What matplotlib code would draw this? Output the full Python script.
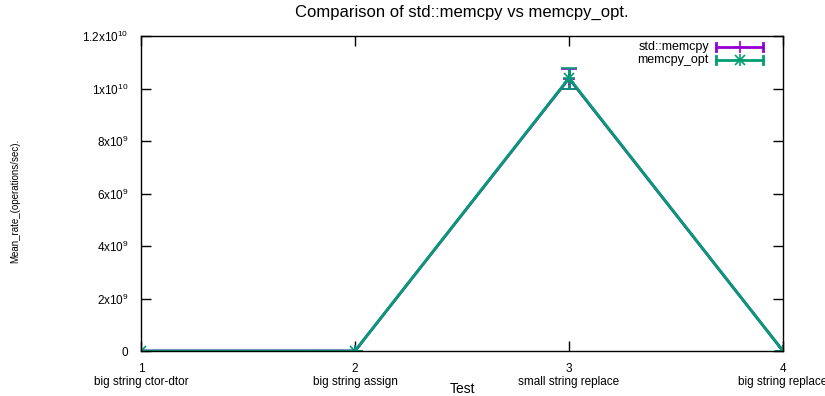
import matplotlib
matplotlib.use("Agg")
import matplotlib.pyplot as plt
from matplotlib.lines import Line2D

plt.rcParams["font.family"] = ["Liberation Sans", "DejaVu Sans"]
plt.rcParams["mathtext.fontset"] = "custom"
plt.rcParams["mathtext.rm"] = "Liberation Sans"
plt.rcParams["mathtext.it"] = "Liberation Sans"

# Benchmark results
tests = [1, 2, 3, 4]
test_names = ["big string ctor-dtor", "big string assign",
              "small string replace", "big string replace"]
std_memcpy = [1.2e6, 2.0e6, 1.038e10, 1.5e6]
std_memcpy_err = [0.0, 0.0, 3.8e8, 0.0]
memcpy_opt = [1.2e6, 2.0e6, 1.040e10, 1.5e6]
memcpy_opt_err = [0.0, 0.0, 4.0e8, 0.0]

y_ticks = [0, 2e9, 4e9, 6e9, 8e9, 1e10, 1.2e10]
y_tick_labels = ["0", r"2x10$^{9}$", r"4x10$^{9}$", r"6x10$^{9}$",
                 r"8x10$^{9}$", r"1x10$^{10}$", r"1.2x10$^{10}$"]

purple = "#9400D3"
green = "#009E73"

fig = plt.figure(figsize=(8.25, 3.96), dpi=100)
ax = fig.add_axes([141 / 825, 1 - 351 / 396, (783 - 141) / 825, (351 - 36) / 396])

ax.errorbar(tests, std_memcpy, yerr=std_memcpy_err, color=purple, lw=2,
            marker="+", ms=9, mew=1.2, capsize=5.5, capthick=2, elinewidth=2)
ax.errorbar(tests, memcpy_opt, yerr=memcpy_opt_err, color=green, lw=2,
            marker="+", ms=9, mew=1.2, capsize=5.5, capthick=2, elinewidth=2)
ax.plot(tests, memcpy_opt, ls="none", marker="x", ms=7, mew=1.2, color=green)

ax.set_xlim(1, 4)
ax.set_ylim(0, 1.2e10)
ax.set_xticks(tests)
ax.set_xticklabels([f"{t}\n{n}" for t, n in zip(tests, test_names)],
                   fontsize=8.5, linespacing=1.0)
ax.set_yticks(y_ticks)
ax.set_yticklabels(y_tick_labels, fontsize=8.5)
ax.tick_params(direction="in", length=7, width=1, top=True, right=True)
ax.tick_params(axis="y", pad=9)
ax.tick_params(axis="x", pad=9)
for s in ax.spines.values():
    s.set_linewidth(1)

fig.text(462 / 825, 1 - 12 / 396, "Comparison of std::memcpy vs memcpy_opt.",
         ha="center", va="center", fontsize=12)
fig.text(462 / 825, 1 - 389 / 396, "Test", ha="center", va="center",
         fontsize=10)
fig.text(15 / 825, 1 - 201 / 396, "Mean_rate_(operations/sec).", rotation=90,
         ha="center", va="center", fontsize=7)

# Legend with error-bar style samples
entries = [("std::memcpy", purple, "+"), ("memcpy_opt", green, "*")]
for i, (label, color, mk) in enumerate(entries):
    yy = 1 - (47 - 36 + 13 * i) / 315
    x0, x1 = (716 - 141) / 642, (763 - 141) / 642
    ax.text((709 - 141) / 642, yy, label, transform=ax.transAxes,
            ha="right", va="center", fontsize=9)
    ax.add_line(Line2D([x0, x1], [yy, yy], transform=ax.transAxes,
                       color=color, lw=2, clip_on=False))
    for xe in (x0, x1):
        ax.add_line(Line2D([xe, xe], [yy - 0.014, yy + 0.014],
                           transform=ax.transAxes, color=color, lw=2,
                           clip_on=False))
    xm = (x0 + x1) / 2
    ax.add_line(Line2D([xm], [yy], transform=ax.transAxes, color=color,
                       marker="+", ms=9, mew=1.2, clip_on=False))
    if mk == "*":
        ax.add_line(Line2D([xm], [yy], transform=ax.transAxes, color=color,
                           marker="x", ms=7, mew=1.2, clip_on=False))

fig.savefig("out.png", dpi=100)
